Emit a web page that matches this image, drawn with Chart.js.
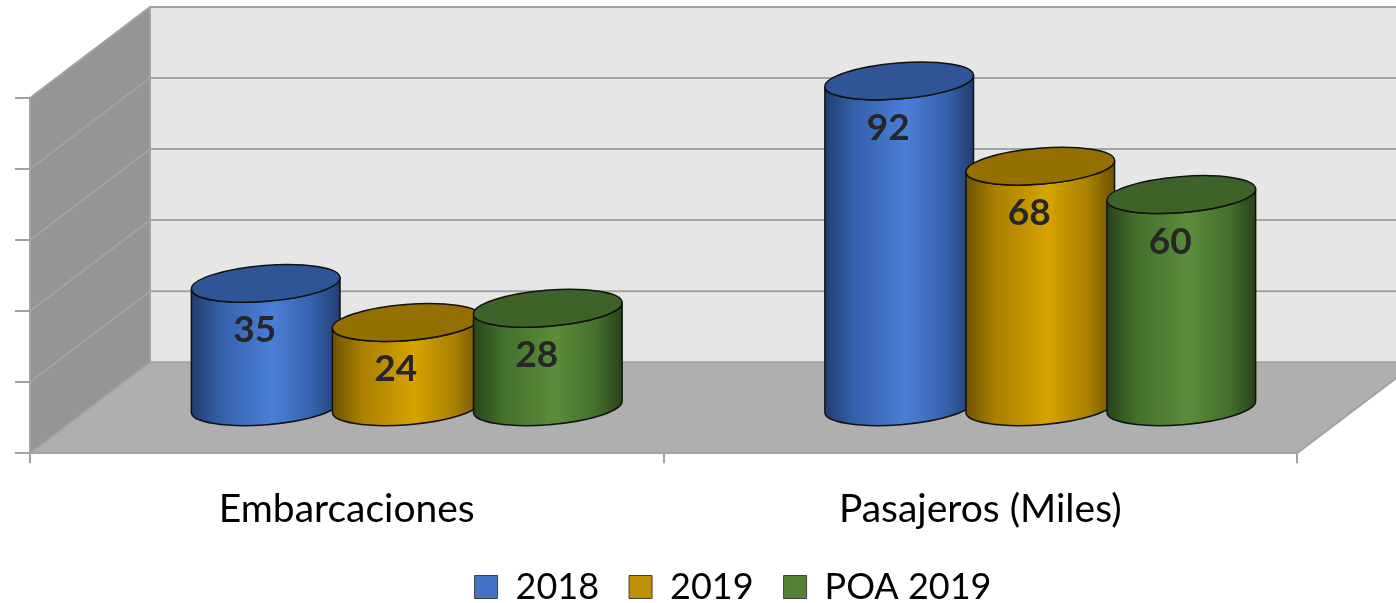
<!DOCTYPE html>
<html>
<head>
<meta charset="utf-8">
<script src="https://cdn.jsdelivr.net/npm/chart.js@4.4.0/dist/chart.umd.min.js"></script>
<style>
html, body { margin: 0; padding: 0; background: #fff; }
#wrap { width: 1396px; height: 603px; }
</style>
</head>
<body>
<div id="wrap"><canvas id="myCylinderChart" width="1396" height="603"></canvas></div>
<script>
var categories = ['Embarcaciones', 'Pasajeros (Miles)'];
var seriesNames = ['2018', '2019', 'POA 2019'];
var values2018 = [35, 92];
var values2019 = [24, 68];
var valuesPoa2019 = [28, 60];
var yTicks = [0, 20, 40, 60, 80, 100];

var seriesColors = ['#4472c4', '#bf9000', '#548235'];
var cylShades = [
	{edge: '#213d70', dark: '#3560aa', mid: '#4a7fd8', top: '#2f5597'},
	{edge: '#6e5200', dark: '#a98000', mid: '#d6a300', top: '#937000'},
	{edge: '#28431a', dark: '#44702c', mid: '#5b8c3b', top: '#3e6329'}
];

// 3D look: back wall sits this far behind the front plane
var depthX = 120, depthY = -91;

function drawCylinder(ctx, cx, top, bot, w, shade) {
	var rx = w / 2, ry = 18, rot = -0.08;
	var grad = ctx.createLinearGradient(cx - rx, 0, cx + rx, 0);
	grad.addColorStop(0, shade.edge);
	grad.addColorStop(0.2, shade.dark);
	grad.addColorStop(0.55, shade.mid);
	grad.addColorStop(0.82, shade.dark);
	grad.addColorStop(1, shade.edge);

	ctx.save();
	ctx.lineWidth = 1.5;
	ctx.strokeStyle = '#111';
	ctx.beginPath();
	ctx.ellipse(cx, bot, rx, ry, rot, Math.PI, 0, true);
	ctx.ellipse(cx, top, rx, ry, rot, 0, Math.PI, false);
	ctx.closePath();
	ctx.fillStyle = grad;
	ctx.fill();
	ctx.stroke();

	ctx.beginPath();
	ctx.ellipse(cx, top, rx, ry, rot, 0, Math.PI * 2);
	ctx.fillStyle = shade.top;
	ctx.fill();
	ctx.stroke();
	ctx.restore();
}

var cylinderPlugin = {
	id: 'cylinders',
	beforeDraw: function(chart) {
		var ctx = chart.ctx, ca = chart.chartArea, yScale = chart.scales.y;
		var L = ca.left, R = ca.right, T = ca.top, B = ca.bottom;
		ctx.save();
		// back wall
		ctx.fillStyle = '#e6e6e6';
		ctx.fillRect(L + depthX, T + depthY, R - L, B - T);
		// side wall
		ctx.fillStyle = '#959595';
		ctx.beginPath();
		ctx.moveTo(L, T); ctx.lineTo(L + depthX, T + depthY);
		ctx.lineTo(L + depthX, B + depthY); ctx.lineTo(L, B);
		ctx.closePath(); ctx.fill();
		// floor
		ctx.fillStyle = '#afafaf';
		ctx.beginPath();
		ctx.moveTo(L, B); ctx.lineTo(R, B);
		ctx.lineTo(R + depthX, B + depthY); ctx.lineTo(L + depthX, B + depthY);
		ctx.closePath(); ctx.fill();

		ctx.strokeStyle = '#a3a3a3';
		ctx.lineWidth = 2;
		yScale.ticks.forEach(function(t) {
			var py = yScale.getPixelForValue(t.value);
			ctx.beginPath();
			ctx.moveTo(L, py);
			ctx.lineTo(L + depthX, py + depthY);
			ctx.lineTo(R + depthX, py + depthY);
			ctx.stroke();
		});
		ctx.beginPath();
		ctx.moveTo(L + depthX, T + depthY); ctx.lineTo(L + depthX, B + depthY);
		ctx.moveTo(R, B); ctx.lineTo(R + depthX, B + depthY);
		ctx.stroke();
		ctx.restore();
	},
	beforeDatasetsDraw: function(chart) {
		var ctx = chart.ctx;
		var labels = [];
		chart.data.datasets.forEach(function(ds, i) {
			var meta = chart.getDatasetMeta(i);
			meta.data.forEach(function(bar, j) {
				var p = bar.getProps(['x', 'y', 'base', 'width'], true);
				var cx = p.x + depthX / 2;
				var top = p.y + depthY / 2;
				drawCylinder(ctx, cx, top, p.base + depthY / 2, p.width, cylShades[i]);
				labels.push([ds.data[j], cx - 11, top + 47]);
			});
		});
		ctx.save();
		ctx.font = 'bold 37px Lato';
		ctx.fillStyle = '#262626';
		ctx.textAlign = 'center';
		ctx.textBaseline = 'middle';
		labels.forEach(function(l) { ctx.fillText(l[0], l[1], l[2]); });
		ctx.restore();
		return false;
	}
};

function makeDataset(i, values) {
	return {
		label: seriesNames[i],
		data: values,
		backgroundColor: seriesColors[i],
		borderColor: '#404040',
		borderWidth: 1
	};
}

var ctx = document.getElementById('myCylinderChart');
var myCylinderChart = new Chart(ctx, {
	type: 'bar',
	data: {
		labels: categories,
		datasets: [
			makeDataset(0, values2018),
			makeDataset(1, values2019),
			makeDataset(2, valuesPoa2019)
		]
	},
	plugins: [cylinderPlugin],
	options: {
		responsive: false,
		animation: false,
		layout: { padding: { left: 15, right: -55, top: 98, bottom: -12 } },
		datasets: { bar: { categoryPercentage: 0.668, barPercentage: 1.057 } },
		plugins: {
			legend: {
				position: 'bottom',
				labels: {
					boxWidth: 23,
					boxHeight: 23,
					padding: 30,
					color: '#000',
					font: { family: 'Lato', size: 36 }
				}
			},
			tooltip: { enabled: false }
		},
		scales: {
			x: {
				afterFit: function(axis) { axis.height = axis.height - 17; },
				grid: { drawOnChartArea: false, tickLength: 10, color: '#a3a3a3', lineWidth: 2 },
				border: { color: '#a3a3a3', width: 2 },
				ticks: { color: '#000', padding: 23, font: { family: 'Lato', size: 39 } }
			},
			y: {
				min: 0,
				max: 100,
				afterBuildTicks: function(axis) {
					axis.ticks = yTicks.map(function(v) { return {value: v}; });
				},
				ticks: { display: false },
				grid: { drawOnChartArea: false, tickLength: 15, color: '#a3a3a3', lineWidth: 2 },
				border: { color: '#a3a3a3', width: 2 }
			},
			// empty right axis: keeps the floor's right edge where the picture has it
			yRight: {
				position: 'right',
				min: 0,
				max: 100,
				afterFit: function(axis) { axis.width = 154; },
				ticks: { display: false },
				grid: { display: false },
				border: { display: false }
			}
		}
	}
});
</script>
</body>
</html>
